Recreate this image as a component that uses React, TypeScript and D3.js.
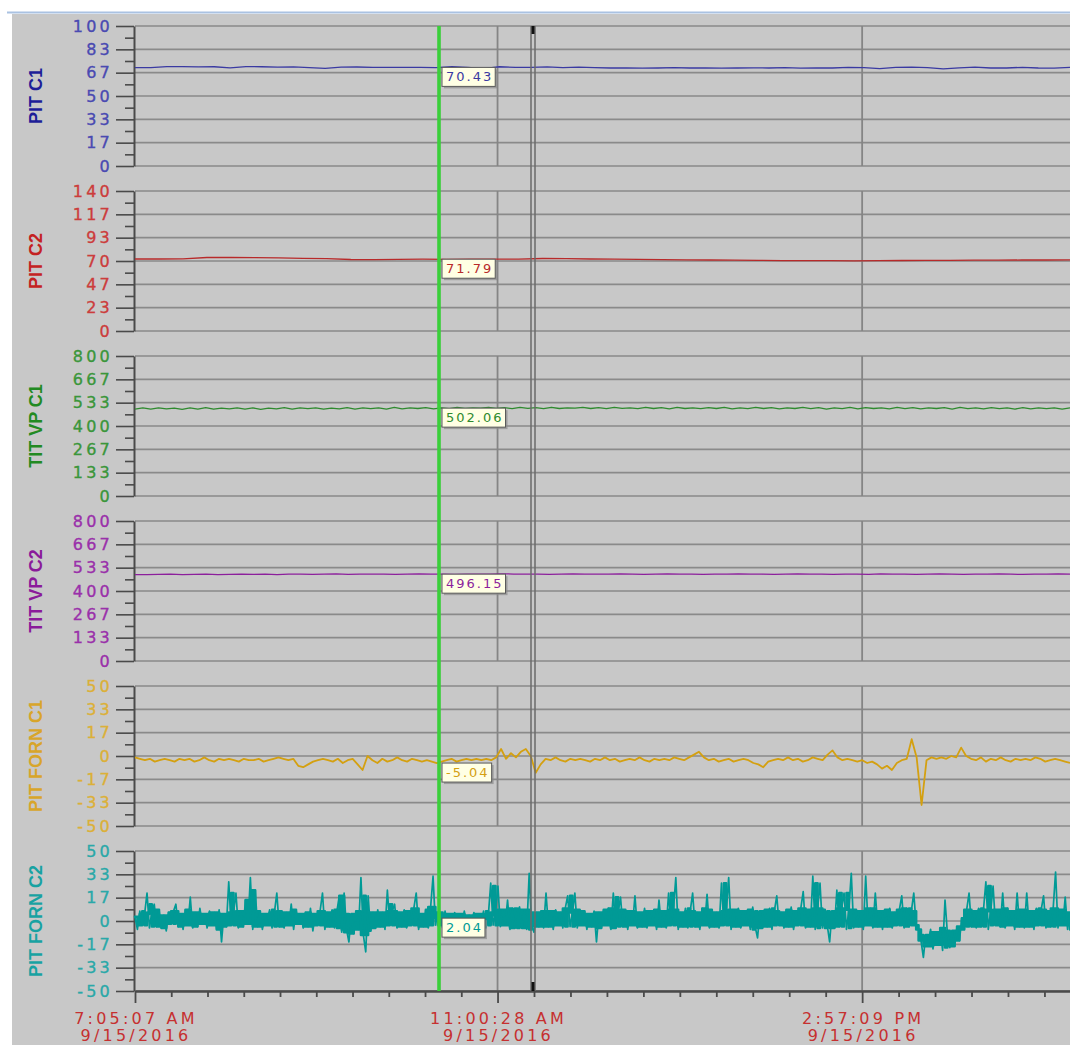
import React, { useEffect, useRef } from "react"
import * as d3 from "d3"

// Pens, top to bottom
const penNames = ["PIT C1", "PIT C2", "TIT VP C1", "TIT VP C2", "PIT FORN C1", "PIT FORN C2"]
const penRanges: [number, number][] = [[0, 100], [0, 140], [0, 800], [0, 800], [-50, 50], [-50, 50]]
const penTicks = [
  ["0", "17", "33", "50", "67", "83", "100"],
  ["0", "23", "47", "70", "93", "117", "140"],
  ["0", "133", "267", "400", "533", "667", "800"],
  ["0", "133", "267", "400", "533", "667", "800"],
  ["-50", "-33", "-17", "0", "17", "33", "50"],
  ["-50", "-33", "-17", "0", "17", "33", "50"],
]
const lineColors = ["#3a3aa2", "#b82a2a", "#2e8a2e", "#8c1f9c", "#d4a010", "#009a96"]
const tickColors = ["#4a4ab2", "#cc3c3c", "#3a963a", "#9a30aa", "#dcb038", "#2aa8a8"]
const titleColors = ["#1e1e98", "#c42222", "#228a22", "#8a1a9a", "#d8a52a", "#18a2a2"]

// cursor readout
const cursorValues = ["70.43", "71.79", "502.06", "496.15", "-5.04", "2.04"]

// time axis
const startTime = new Date(2016, 8, 15, 7, 5, 7)
const endTime = new Date(2016, 8, 15, 17, 12, 5)
const majorTimes = [
  new Date(2016, 8, 15, 7, 5, 7),
  new Date(2016, 8, 15, 11, 0, 28),
  new Date(2016, 8, 15, 14, 57, 9),
]
const cursorTime = new Date(2016, 8, 15, 10, 22, 28)
const markerTimes = [new Date(2016, 8, 15, 11, 22, 11), new Date(2016, 8, 15, 11, 24, 47)]

// sampled values, evenly spaced over the visible window
const pitC1 = [70.2, 70.2, 71.0, 71.0, 70.8, 70.9, 70.1, 71.0, 70.9, 70.6, 70.8, 70.3, 69.8, 70.6, 70.7, 70.4, 70.5, 70.4, 70.43, 70.2,
  71.0, 70.5, 69.6, 70.9, 70.4, 70.5, 70.8, 70.3, 70.6, 70.2, 70.0, 70.1, 69.9, 70.0, 70.2, 70.0, 70.1, 69.9, 70.0, 70.1,
  70.0, 70.2, 69.9, 70.0, 70.0, 70.5, 70.2, 69.5, 70.5, 70.6, 70.2, 69.4, 70.1, 70.6, 70.0, 70.0, 70.5, 70.0, 69.9, 70.4]

const pitC2 = [72.0, 72.0, 72.2, 73.5, 73.5, 73.4, 73.2, 72.6, 72.4, 71.5, 71.4, 71.6, 71.8, 71.7, 71.8, 71.79, 71.9, 72.5, 72.4, 72.0,
  71.8, 71.6, 71.4, 71.2, 71.0, 70.8, 70.6, 70.4, 70.4, 70.3, 70.2, 70.3, 70.5, 70.6, 70.7, 70.8, 70.9, 71.0, 71.0, 71.1]

const titVpC1 = [497, 503, 496, 504, 498, 502, 495, 503, 497, 505, 496, 502, 498, 504, 497, 503, 495, 502, 498, 505,
  497, 503, 499, 504, 496, 502, 498, 505, 497, 503, 499, 504, 497, 506, 498, 503, 500, 505, 498, 504,
  499, 506, 500, 504, 502, 507, 500, 505, 499, 506, 501, 505, 499, 507, 500, 504, 502, 506, 500, 505,
  499, 506, 501, 504, 499, 507, 500, 505, 498, 506, 500, 504, 499, 505, 500, 506, 498, 504, 499, 506,
  500, 505, 498, 504, 500, 506, 499, 505, 497, 504, 499, 506, 498, 505, 500, 504, 498, 506, 499, 505,
  498, 504, 500, 505, 497, 506, 499, 504, 498, 505, 499, 503, 497, 505, 498, 504, 499, 503, 497, 504]

const titVpC2 = [494, 494, 495, 497, 494, 495, 496, 494, 495, 497, 495, 496, 494, 496, 497, 495, 496, 498, 495, 496,
  496, 497, 495, 496, 498, 496, 497, 495, 496, 497, 496, 498, 497, 496, 497, 495, 497, 498, 496, 497,
  496, 498, 497, 495, 496, 498, 497, 496, 495, 497, 496, 498, 497, 496, 495, 497, 498, 496, 497, 495,
  496, 497, 495, 498, 496, 497, 495, 496, 498, 497, 495, 496, 497, 498, 496, 495, 497, 496, 498, 496]

const pitFornC1 = [
  -1, -2, -3, -2, -4, -3, -2, -3, -4, -2,
  -3, -2, -4, -3, -1, -3, -4, -2, -3, -2,
  -3, -4, -2, -3, -3, -2, -4, -3, -2, -1,
  -2, -3, -2, -7, -8, -6, -4, -3, -2, -3,
  -4, -2, -5, -3, -2, -6, -10, 0, -3, -5,
  -2, -4, -3, -1, -3, -4, -2, -3, -4, -3,
  -4, -5.04, -4, -3, -2, -4, -3, -2, -3, -2,
  -3, -2, -3, -1, 5, -2, 2, -1, 3, 5,
  0, -12, -6, -2, -3, -1, -3, -4, -2, -3,
  -2, -3, -4, -2, -3, -1, -3, -2, -4, -3,
  -2, -3, -1, -3, -4, -2, -3, -2, -3, -1,
  -2, -3, -1, 1, 3, -1, -3, -2, -4, -3,
  -2, -4, -3, -2, -3, -5, -6, -8, -4, -3,
  -2, -3, -1, -3, -2, -4, -3, -1, -2, -3,
  1, 4, -1, -3, -2, -3, -4, -3, -5, -4,
  -6, -9, -7, -10, -5, -3, -2, 12, -1, -35,
  -3, -1, -2, -1, -2, 0, -1, 6, 0, -2,
  -3, -1, -4, -2, -3, -1, -3, -4, -2, -3,
  -2, -3, -1, -2, -4, -3, -2, -3, -4, -5,
]

const pitFornC2 = [
  3, -6, 7, -3, 5, 20, -5, 6, 12, -4,
  8, -5, 4, -7, 6, -2, 7, 12, -4, 5,
  -6, 8, -3, 17, -5, 6, -4, 9, -2, 5,
  -5, 7, -3, 6, -6, 8, -15, 5, -4, 28,
  -3, 6, 20, -5, 7, -4, 15, -2, 31, -6,
  22, -4, 7, -6, 5, -3, 8, -5, 6, 20,
  -4, 7, -5, 6, -3, 12, -6, 8, -2, 5,
  -5, 6, -4, 9, -7, 5, -3, 7, 20, -6,
  6, -4, 8, -5, 7, 18, -8, 20, -6, -15,
  5, -9, 7, -6, 31, -10, -22, 18, -7, 6,
  -5, 8, -4, 6, -6, 22, -3, 7, 12, -5,
  6, -4, 8, -5, 7, -3, 9, 20, -6, 5,
  -4, 8, -5, 10, 32, -3, 6, 2, -5, 7,
  -3, 5, -2, 6, -4, 5, -3, 7, -2, 4,
  -4, 6, -3, 5, -2, 7, -5, 4, 27, -3,
  6, 25, -4, 8, -3, 15, -6, 9, -5, 7,
  10, -5, 8, -6, 34, -3, -8, 6, -4, 7,
  -5, 20, -4, 7, -6, 8, -3, 6, -5, 9,
  18, -4, 6, 20, -5, 8, -3, 7, -6, 5,
  -4, 7, -15, 6, -5, 8, -3, 9, -6, 20,
  -5, 6, 17, -4, 8, -6, 7, -3, 18, -5,
  6, -4, 9, -5, 7, -3, 8, -6, 15, -4,
  7, -5, 20, -3, 8, 31, -6, 6, -4, 9,
  -5, 7, 20, -4, 6, -6, 9, -3, 19, -5,
  8, -4, 6, -5, 27, -3, 7, 31, -6, 8,
  -4, 9, -5, 7, -3, 8, -6, 10, -4, -12,
  7, -5, 8, -4, 9, -6, 7, 18, -3, 6,
  -5, 8, -4, 10, -6, 7, -3, 9, 21, -5,
  8, -4, 32, -6, 9, 27, -5, 8, -3, -15,
  7, -5, 22, -4, 9, 20, -6, 8, 34, -5,
  8, -4, 7, -6, 32, -3, 9, -5, 20, -4,
  7, -6, 8, -4, 9, -5, 6, -3, 8, 18,
  -5, 9, -4, 7, 20, -3, -6, -14, -26, -10,
  -18, -6, -20, -8, -17, -5, -21, 15, -9, -19,
  -7, -18, -4, -14, 2, -6, 8, 20, -4, 7,
  -5, 9, -4, 8, 28, -6, 7, 25, -3, 8,
  -4, 20, -5, 9, -3, 7, -6, 20, -4, 8,
  -5, 20, -4, 7, -6, 9, -3, 8, 18, -5,
  7, -4, 9, 35, -5, 8, -3, 17, -6, 6,
]

const penData = [pitC1, pitC2, titVpC1, titVpC2, pitFornC1, pitFornC2]
const penWidths = [1.3, 1.3, 1.3, 1.3, 1.8, 1.7]

function drawChart(svgEl: SVGSVGElement) {
  const svg = d3.select(svgEl)
  svg.selectAll("*").remove()

  // Dimensions
  const W = 1070
  const H = 1045
  const left = 135
  const right = 1070
  const top0 = 26
  const step = 165
  const panelH = 140
  const bottom = top0 + step * 5 + panelH

  // window frame
  svg.append("rect").attr("width", W).attr("height", H).attr("fill", "#ffffff")
  svg.append("line")
    .attr("x1", 7).attr("x2", W).attr("y1", 12.5).attr("y2", 12.5)
    .attr("stroke", "#aac2e2").attr("stroke-width", 2)
  svg.append("rect")
    .attr("x", 12).attr("y", 14).attr("width", W - 12).attr("height", H - 14)
    .attr("fill", "#c8c8c8")

  const x = d3.scaleTime().domain([startTime, endTime]).range([left, right])

  const minorTimes: Date[] = []
  majorTimes.forEach((t, k) => {
    const a = +t
    const b = k < majorTimes.length - 1 ? +majorTimes[k + 1] : a + (a - +majorTimes[k - 1])
    for (let j = 1; j < 10; j++) {
      const v = a + (j * (b - a)) / 10
      if (v <= +endTime) minorTimes.push(new Date(v))
    }
  })

  const panels: { y: d3.ScaleLinear<number, number>; top: number }[] = []

  penNames.forEach((name, i) => {
    const top = top0 + i * step
    const [lo, hi] = penRanges[i]
    const y = d3.scaleLinear().domain([lo, hi]).range([top + panelH, top])
    panels.push({ y, top })
    const major = d3.range(7).map(k => lo + ((hi - lo) * k) / 6)
    const minor = d3.range(6).map(k => lo + ((hi - lo) * (k + 0.5)) / 6)

    const g = svg.append("g")

    // grid
    g.selectAll(".hgrid").data(major).join("line")
      .attr("class", "hgrid")
      .attr("x1", left).attr("x2", right)
      .attr("y1", d => y(d)).attr("y2", d => y(d))
      .attr("stroke", "#8a8a8a").attr("stroke-width", 1.6)
    g.selectAll(".vgrid").data(majorTimes.slice(1)).join("line")
      .attr("class", "vgrid")
      .attr("x1", d => x(d)).attr("x2", d => x(d))
      .attr("y1", top).attr("y2", top + panelH)
      .attr("stroke", "#858585").attr("stroke-width", 1.8)

    // axis
    const axis = d3.axisLeft(y)
      .tickValues(major)
      .tickSize(18)
      .tickSizeOuter(0)
      .tickPadding(3)
      .tickFormat((d, k) => penTicks[i][k])
    const ag = g.append("g").attr("transform", `translate(${left - 1},0)`).call(axis)
    ag.select(".domain").attr("stroke", "#4a4a4a").attr("stroke-width", 2)
    ag.selectAll(".tick line").attr("stroke", "#4a4a4a").attr("stroke-width", 1.6)
    ag.selectAll(".tick text")
      .attr("fill", tickColors[i])
      .attr("stroke", tickColors[i])
      .attr("stroke-width", 0.35)
      .attr("letter-spacing", 3.2)
      .style("font", "16px 'DejaVu Sans', sans-serif")

    const minorAxis = d3.axisLeft(y).tickValues(minor).tickSize(9).tickSizeOuter(0).tickFormat(() => "")
    const mg = g.append("g").attr("transform", `translate(${left - 1},0)`).call(minorAxis)
    mg.select(".domain").remove()
    mg.selectAll(".tick line").attr("stroke", "#4a4a4a").attr("stroke-width", 1.6)

    // title
    g.append("text")
      .attr("transform", `translate(42,${top + panelH / 2}) rotate(-90)`)
      .attr("text-anchor", "middle")
      .attr("fill", titleColors[i])
      .style("font", "bold 18px 'Liberation Sans', Arial, sans-serif")
      .text(name)
  })

  // pens
  const span = +endTime - +startTime
  penData.forEach((values, i) => {
    const { y } = panels[i]
    const times = values.map((_, k) => new Date(+startTime + (k * span) / (values.length - 1)))

    // fast pen: fill the dense core of the trace (spikes excluded) so it reads as a band
    if (i === penData.length - 1) {
      const core = values.map((_, k) => {
        const w = values.slice(Math.max(0, k - 1), k + 3).sort((a, b) => a - b)
        return [w[1], w[w.length - 2]]
      })
      const band = d3.area<number[]>()
        .x((_, k) => x(times[k]))
        .y0(d => y(d[0]))
        .y1(d => y(d[1]))
        .curve(d3.curveStepAfter)
      svg.append("path").datum(core).attr("d", band)
        .attr("fill", lineColors[i])
        .attr("stroke", lineColors[i])
        .attr("stroke-width", 2.5)
        .attr("stroke-linejoin", "round")
    }

    const line = d3.line<number>()
      .x((_, k) => x(times[k]))
      .y(d => y(d))
    svg.append("path")
      .datum(values)
      .attr("d", line)
      .attr("fill", "none")
      .attr("stroke", lineColors[i])
      .attr("stroke-width", penWidths[i])
      .attr("stroke-linejoin", "round")
  })

  // time axis
  const xa = svg.append("g").attr("transform", `translate(0,${bottom})`)
    .call(d3.axisBottom(x).tickValues(majorTimes).tickSize(12).tickSizeOuter(0).tickFormat(() => ""))
  xa.select(".domain").attr("stroke", "#4a4a4a").attr("stroke-width", 2.5)
  xa.selectAll(".tick line").attr("stroke", "#4a4a4a").attr("stroke-width", 1.8)
  const xm = svg.append("g").attr("transform", `translate(0,${bottom})`)
    .call(d3.axisBottom(x).tickValues(minorTimes).tickSize(6).tickSizeOuter(0).tickFormat(() => ""))
  xm.select(".domain").remove()
  xm.selectAll(".tick line").attr("stroke", "#4a4a4a").attr("stroke-width", 1.8)

  const fmtTime = d3.timeFormat("%-I:%M:%S %p")
  const fmtDate = d3.timeFormat("%-m/%d/%Y")
  majorTimes.forEach(t => {
    const lbl = svg.append("text")
      .attr("text-anchor", "middle")
      .attr("fill", "#c63030")
      .attr("letter-spacing", 3.2)
      .style("font", "16px 'DejaVu Sans', sans-serif")
    lbl.append("tspan").attr("x", x(t) + 1).attr("y", 1024).text(fmtTime(t))
    lbl.append("tspan").attr("x", x(t) + 1).attr("y", 1041).text(fmtDate(t))
  })

  // marker pair
  markerTimes.forEach(t => {
    svg.append("line")
      .attr("x1", x(t)).attr("x2", x(t)).attr("y1", top0).attr("y2", bottom)
      .attr("stroke", "#6a6a6a").attr("stroke-width", 1.5)
  })
  const mx = (x(markerTimes[0]) + x(markerTimes[1])) / 2
  svg.append("rect").attr("x", mx - 1.5).attr("y", top0).attr("width", 3).attr("height", 8).attr("fill", "#111")
  svg.append("rect").attr("x", mx - 1.5).attr("y", bottom - 9).attr("width", 3).attr("height", 9).attr("fill", "#111")

  // cursor
  const cx = x(cursorTime)
  svg.append("line")
    .attr("x1", cx).attr("x2", cx).attr("y1", top0).attr("y2", bottom)
    .attr("stroke", "#3acf3a").attr("stroke-width", 3.6)

  cursorValues.forEach((v, i) => {
    const { y } = panels[i]
    const bx = cx + 3
    const by = y(+v)
    const g = svg.append("g")
    const shadow = g.append("rect").attr("fill", "#8a8a8a").attr("opacity", 0.7)
    const box = g.append("rect").attr("fill", "#ffffe4").attr("stroke", "#5a5a5a").attr("stroke-width", 1)
    const txt = g.append("text")
      .attr("x", bx + 4).attr("y", by + 14)
      .attr("fill", lineColors[i])
      .attr("letter-spacing", 2)
      .style("font", "13px 'DejaVu Sans', sans-serif")
      .text(v)
    const tw = (txt.node() as SVGTextElement).getComputedTextLength()
    const bw = tw + 6
    box.attr("x", bx).attr("y", by).attr("width", bw).attr("height", 19)
    shadow.attr("x", bx + 2).attr("y", by + 2).attr("width", bw).attr("height", 19)
  })
}

export default function App() {
  const ref = useRef<SVGSVGElement>(null)

  useEffect(() => {
    if (ref.current) drawChart(ref.current)
  }, [])

  return (
    <svg
      ref={ref}
      width={1070}
      height={1045}
      style={{ position: "absolute", left: 0, top: 0, display: "block" }}
    />
  )
}
